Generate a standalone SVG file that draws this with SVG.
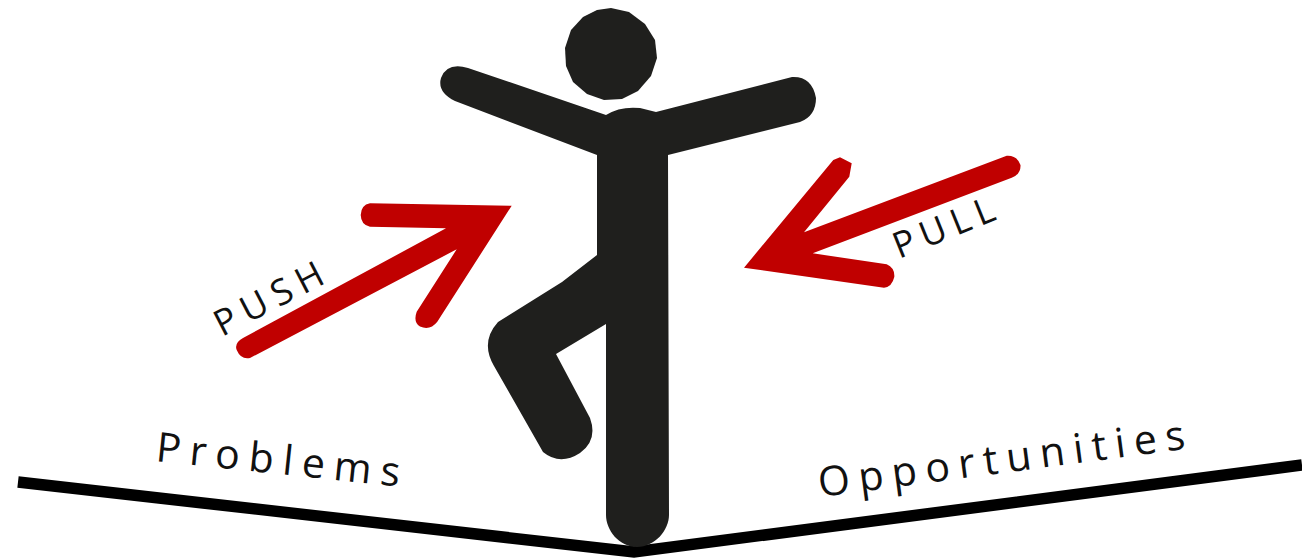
<svg xmlns="http://www.w3.org/2000/svg" width="1302" height="558" viewBox="0 0 1302 558">
<style>
.lbl{font-family:"Open Sans","Liberation Sans",sans-serif;fill:#111}
.red{fill:#c00000;stroke:none}
</style>
<rect width="1302" height="558" fill="#fff"/>
<g id="rope"><path d="M18 482L634 552L1302 465" fill="none" stroke="#000" stroke-width="11.5"/></g>
<g id="figure" fill="#1f1f1d" stroke="none">
<path d="M611 8L629 12L645 24L655 40L657 58L651 76L638 91L622 99L604 100L587 94L573 82L566 66L565 48L571 30L583 17L597 10Z"/>
<path d="M606 115Q620 106 640 108L656 112L792 77Q812 76 816 98Q816 116 800 122L668 155L669 515C669 530 655 547 637 547C619 547 606 530 606 515L606 324L556 354L590 418Q598 440 580 453Q560 466 543 452L494 366Q480 342 498 322L562 282L597 255L597 155L455 101Q437 92 441 78Q447 62 468 68Z"/>
</g>
<g id="connectors">
<path id="push-arrow" class="red" d="M511.7 205.7L370 203.3Q361 205 360.7 215Q361 225 370 226.7L446 228.3L243 338Q234 343 236.7 350Q241 360 250 358L456.7 249.3L416.7 311.7Q413 322 420 326.5Q430 331 437.3 321.7Z"/>
<path id="pull-arrow" class="red" d="M744 267.7L833.3 160L840 157.3L851.7 163.3L849.3 176.7L804 232.3L1006.7 155.7Q1017 155 1020.5 165Q1021 174 1011.7 177.7L812.7 253.3L886.7 264.3Q895 268 894.3 277Q892 287 884 287.7Z"/>
</g>
<g id="push-label"><text class="lbl" font-size="36" letter-spacing="8" transform="translate(222 337) rotate(-27.5)">PUSH</text></g>
<g id="pull-label"><text class="lbl" font-size="36" letter-spacing="7" transform="translate(899 259) rotate(-22)">PULL</text></g>
<g id="problems-label"><text class="lbl" font-size="41" letter-spacing="9" transform="translate(155 461) rotate(6)">Problems</text></g>
<g id="opportunities-label"><text class="lbl" font-size="41" letter-spacing="8.6" transform="translate(820 497) rotate(-7.5)">Opportunities</text></g>
</svg>
